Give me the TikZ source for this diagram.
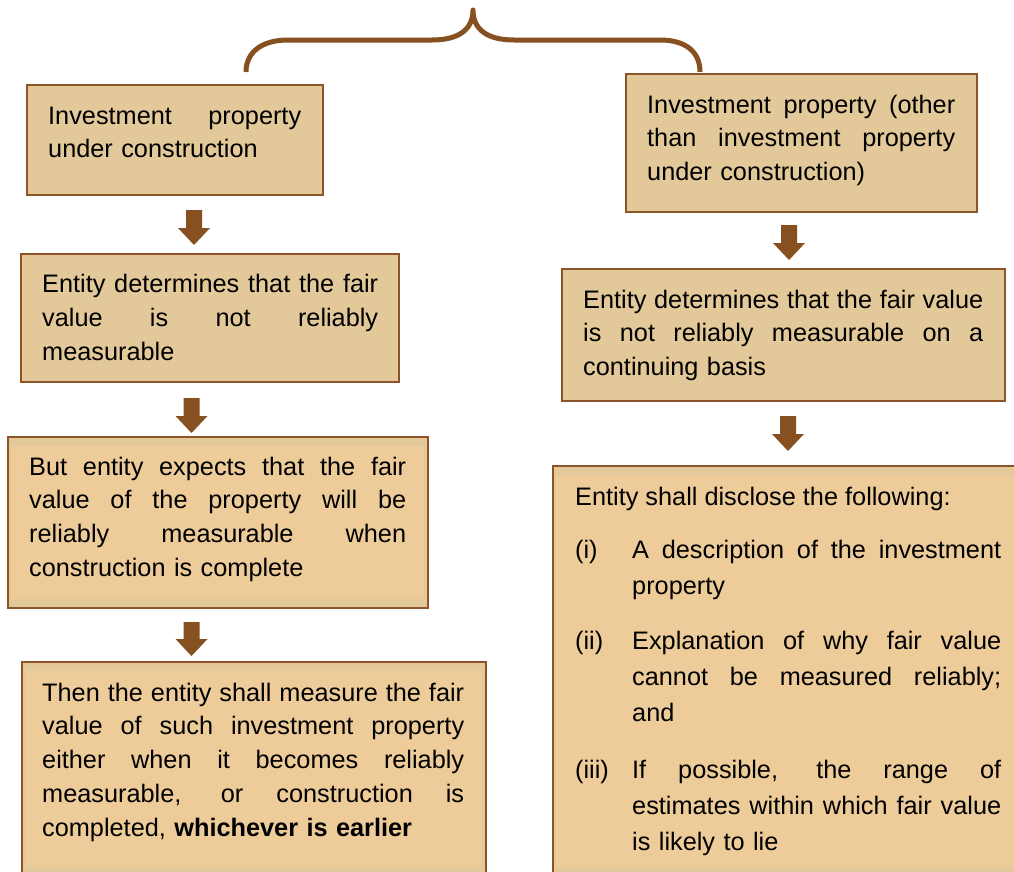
\documentclass[tikz,border=0pt]{standalone}
\usepackage{fontspec}
\setmainfont{Liberation Sans}
\usetikzlibrary{calc}
\definecolor{boxborder}{RGB}{140,84,40}
\definecolor{tanA}{RGB}{227,201,153}
\definecolor{tanB}{RGB}{237,204,154}
\definecolor{arrowc}{RGB}{135,80,33}
\newcommand\txtsize{\fontsize{25.3}{33.8}\selectfont}
\newcommand\itsize{\fontsize{25.3}{36}\selectfont}
\newcommand\jl[1]{\leavevmode\hbox to \hsize{\spaceskip=0.278em plus 1fil\relax #1}}
\begin{document}
\begin{tikzpicture}[x=1pt,y=-1pt,
  box/.style={draw=boxborder, line width=2.4pt, anchor=north west, inner sep=0pt, outer sep=0pt, rectangle},
  tanbox/.style={box, fill=tanA},
  orbox/.style={box, fill=tanA, path picture={\fill[tanB] ([shift={(3pt,-9pt)}]path picture bounding box.north west) rectangle ([shift={(-4pt,9pt)}]path picture bounding box.south east);}},
  txt/.style={anchor=base west, inner sep=0pt, text width=#1, align=left, font=\txtsize},
  itxt/.style={anchor=base west, inner sep=0pt, text width=#1, align=left, font=\itsize},
  lbl/.style={anchor=base west, inner sep=0pt, font=\txtsize},
  barrow/.style={fill=arrowc, to path={let \p1=(\tikztostart), \p2=(\tikztotarget) in
     (\x1-8pt,\y1) -- (\x1+8pt,\y1) -- (\x1+8pt,\y2+17pt) -- (\x1+16pt,\y2+17pt) -- (\x1,\y2)
     -- (\x1-16pt,\y2+17pt) -- (\x1-8pt,\y2+17pt) -- cycle}},
  brace/.style={draw=arrowc, line width=5pt, line join=round}
]
\clip (0,0) rectangle (1014,871);
\fill[white] (0,0) rectangle (1014,871);

% brace
\draw[brace] (246,72) .. controls (246,52) and (262,40) .. (288,40) -- (432,40)
  .. controls (458,40) and (473,30) .. (473,10)
  .. controls (473,30) and (488,40) .. (514,40) -- (660,40)
  .. controls (686,40) and (700,52) .. (700,72);

% boxes
\node[tanbox, minimum width=296pt, minimum height=110pt] (L1) at (27,85) {};
\node[tanbox, minimum width=378pt, minimum height=128pt] (L2) at (21,254) {};
\node[orbox, minimum width=420pt, minimum height=171pt] (L3) at (8,437) {};
\node[orbox, minimum width=464pt, minimum height=214pt] (L4) at (22,662) {};
\node[tanbox, minimum width=351pt, minimum height=138pt] (R1) at (626,74) {};
\node[tanbox, minimum width=443pt, minimum height=132pt] (R2) at (562,269) {};
\node[orbox, minimum width=470pt, minimum height=410pt] (R3) at (553,466) {};

% texts
\node[txt=253pt] (t1) at (48,124) {\jl{Investment property}\\under construction};
\node[txt=336pt] (t2) at (42,292.5) {\jl{Entity determines that the fair}\\\jl{value is not reliably}\\measurable};
\node[txt=377pt] (t3) at (29,475) {\jl{But entity expects that the fair}\\\jl{value of the property will be}\\\jl{reliably measurable when}\\construction is complete};
\node[txt=422pt] (t4) at (42,701) {\jl{Then the entity shall measure the fair}\\\jl{value of such investment property}\\\jl{either when it becomes reliably}\\\jl{measurable, or construction is}\\completed, \textbf{whichever is earlier}};
\node[txt=308pt] (t5) at (647,113) {\jl{Investment property (other}\\\jl{than investment property}\\under construction)};
\node[txt=400pt] (t6) at (583,308) {\jl{Entity determines that the fair value}\\\jl{is not reliably measurable on a}\\continuing basis};
\node[lbl] (h7) at (575,505) {Entity shall disclose the following:};
\node[lbl] (n1) at (575,558) {(i)};
\node[itxt=369pt] (i1) at (632,558) {\jl{A description of the investment}\\property};
\node[lbl] (n2) at (575,649) {(ii)};
\node[itxt=369pt] (i2) at (632,649) {\jl{Explanation of why fair value}\\\jl{cannot be measured reliably;}\\and};
\node[lbl] (n3) at (575,778) {(iii)};
\node[itxt=369pt] (i3) at (632,778) {\jl{If possible, the range of}\\\jl{estimates within which fair value}\\is likely to lie};

% arrows
\coordinate (a1s) at (194,210);   \coordinate (a1e) at (194,245);
\coordinate (a2s) at (191.5,398); \coordinate (a2e) at (191.5,433);
\coordinate (a3s) at (191.5,622); \coordinate (a3e) at (191.5,656);
\coordinate (a4s) at (789,225);   \coordinate (a4e) at (789,260);
\coordinate (a5s) at (788,416);   \coordinate (a5e) at (788,451);
\path[barrow] (a1s) to (a1e);
\path[barrow] (a2s) to (a2e);
\path[barrow] (a3s) to (a3e);
\path[barrow] (a4s) to (a4e);
\path[barrow] (a5s) to (a5e);
\end{tikzpicture}
\end{document}
